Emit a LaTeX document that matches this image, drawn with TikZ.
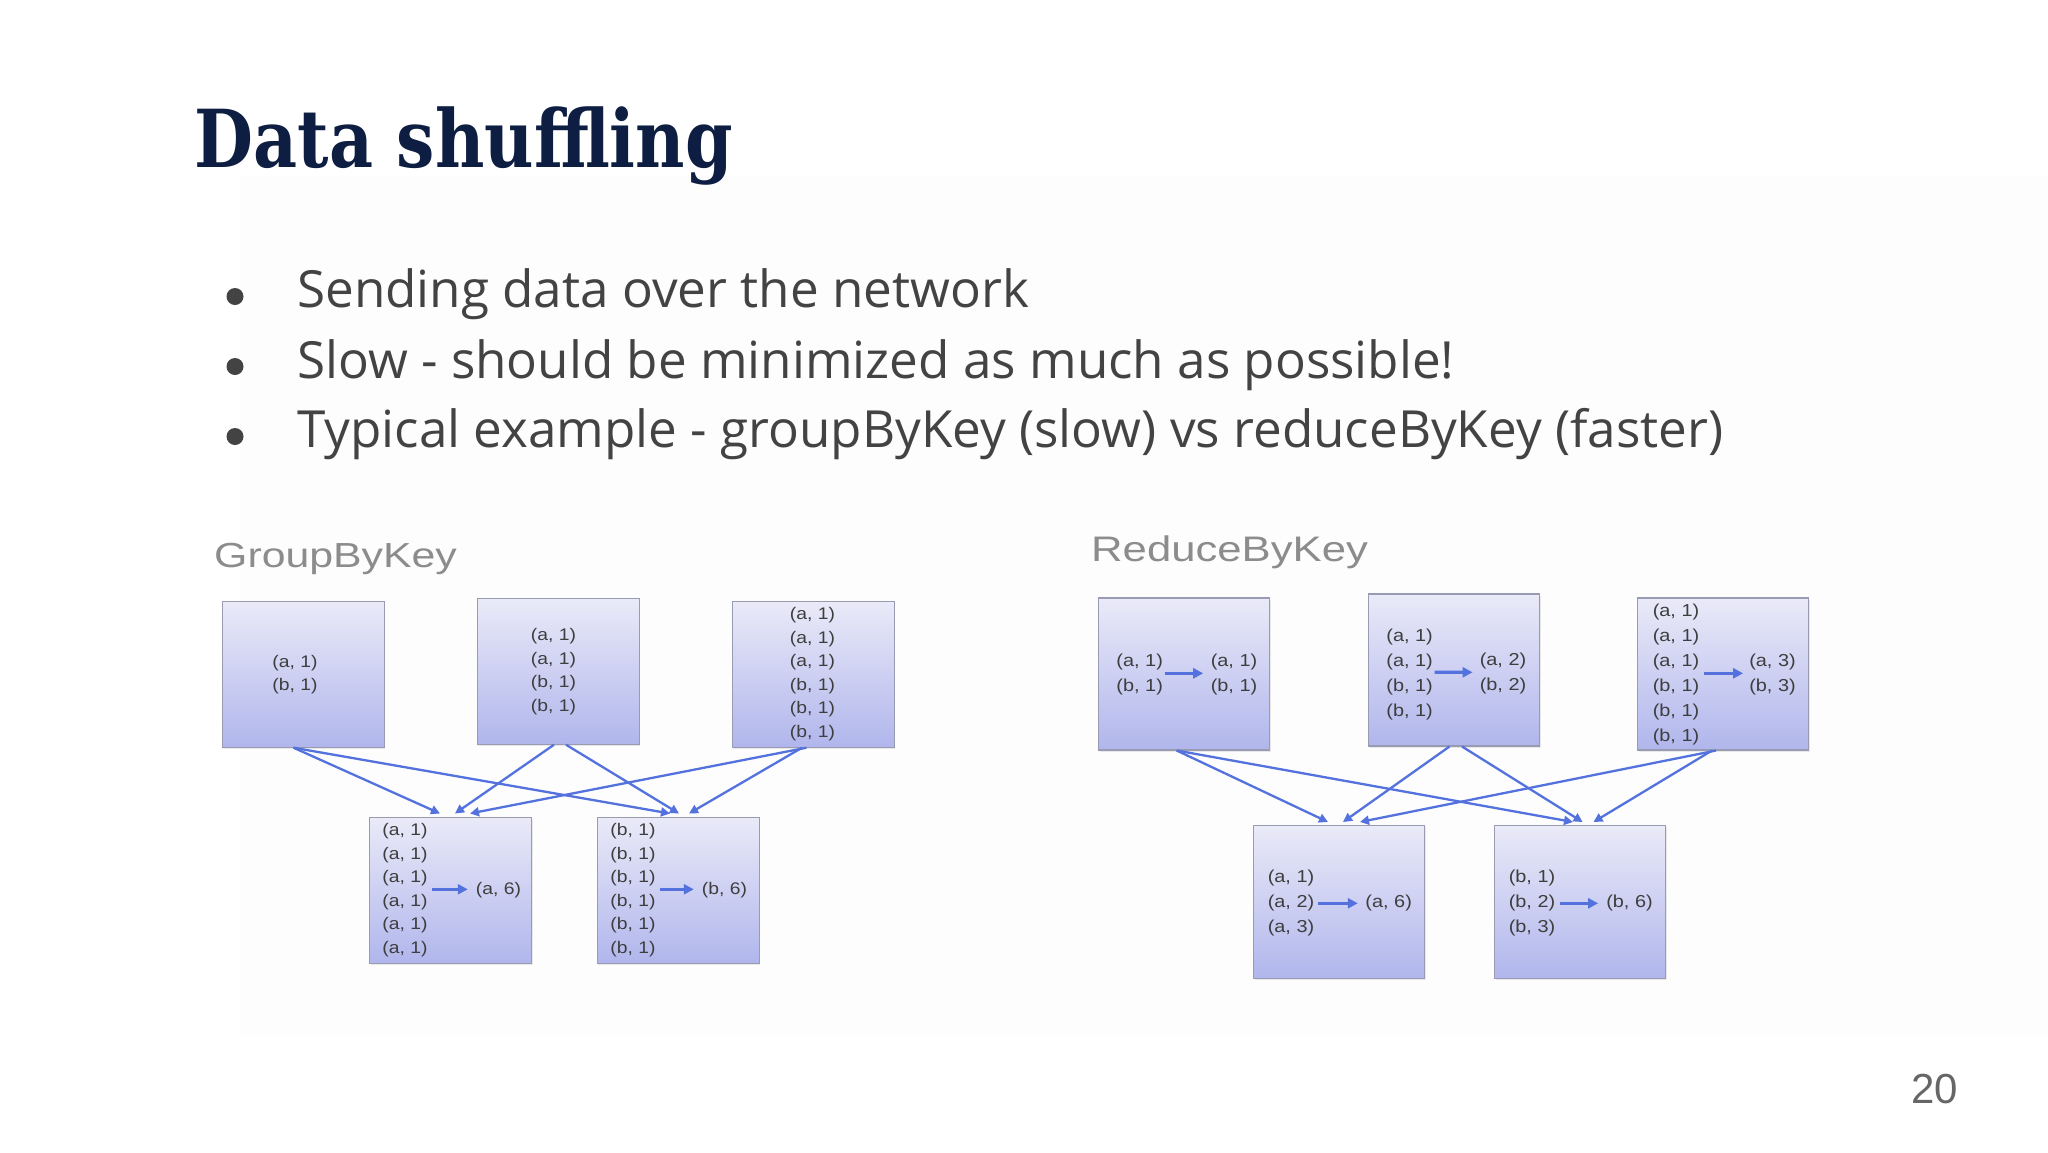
\documentclass[tikz,border=0pt]{standalone}
\usepackage{fontspec}
\usetikzlibrary{arrows.meta,shadows}
\newfontfamily\titlefont[FakeStretch=0.85]{DejaVu Serif}
\newfontfamily\bulletfont{Open Sans}
\newfontfamily\labelfont[FakeStretch=1.23]{Liberation Sans}
\newfontfamily\boxfont[FakeStretch=1.15]{Liberation Sans}
\newfontfamily\pagefont{Liberation Sans}
\definecolor{titlecol}{RGB}{13,30,66}
\definecolor{bulletcol}{RGB}{67,67,67}
\definecolor{labelcol}{RGB}{140,140,140}
\definecolor{pagecol}{RGB}{102,102,102}
\definecolor{boxtop}{RGB}{234,234,248}
\definecolor{boxbot}{RGB}{176,182,236}
\definecolor{boxline}{RGB}{152,155,178}
\definecolor{boxtext}{RGB}{62,62,62}
\definecolor{edgecol}{RGB}{84,114,222}
\definecolor{bgfaint}{RGB}{253,253,254}
\tikzset{
  gbox/.style={draw=boxline, line width=1.2pt, top color=boxtop, bottom color=boxbot,
    anchor=north west, inner sep=0pt, minimum width=162pt, minimum height=146pt,
    drop shadow={opacity=0.16, shadow xshift=1.2pt, shadow yshift=-1.8pt}},
  rbox/.style={gbox, minimum width=171pt, minimum height=152pt},
  gtxt/.style={inner sep=0pt, align=left, text=boxtext, font=\boxfont\fontsize{16.8}{23.5}\selectfont},
  rtxt/.style={inner sep=0pt, align=left, text=boxtext, font=\boxfont\fontsize{17.3}{25}\selectfont},
  flow/.style={draw=edgecol, line width=2.3pt, -{Triangle[length=9pt,width=9pt]}},
  inarrow/.style={draw=edgecol, line width=3.2pt, -{Triangle[length=10pt,width=10pt]}},
  bul/.style={anchor=base west, inner sep=0pt, text=bulletcol, font=\bulletfont\fontsize{51.2}{62}\selectfont},
  dot/.style={circle, fill=bulletcol, minimum size=17pt, inner sep=0pt},
  lbl/.style={anchor=base west, inner sep=0pt, text=labelcol, font=\labelfont\fontsize{34.8}{40}\selectfont},
}
\begin{document}
\begin{tikzpicture}[x=1pt,y=-1pt]
\useasboundingbox (0,0) rectangle (2048,1152);
\fill[white] (0,0) rectangle (2048,1152);
\fill[bgfaint] (240,176) rectangle (2048,1035);

% title
\node[anchor=base west, inner sep=0pt, text=titlecol, font=\titlefont\bfseries\fontsize{80}{96}\selectfont] (title) at (194.5,167.3) {Data shuffling};

% bullets
\node[dot] (d1) at (235,296.5) {};
\node[dot] (d2) at (235,366.5) {};
\node[dot] (d3) at (235,436.5) {};
\node[bul] (b1) at (297,307.5) {Sending data over the network};
\node[bul] (b2) at (297,378) {Slow - should be minimized as much as possible!};
\node[bul] (b3) at (297,447) {Typical example - groupByKey (slow) vs reduceByKey (faster)};

% labels
\node[lbl] (glbl) at (214,567.7) {GroupByKey};
\node[lbl, font=\labelfont\fontsize{35.5}{40}\selectfont] (rlbl) at (1091,561.7) {ReduceByKey};

% GroupByKey boxes
\node[gbox] (G1) at (221.5,600.5) {};
\node[gbox] (G2) at (476.5,597.5) {};
\node[gbox] (G3) at (731.5,600.5) {};
\node[gbox] (G4) at (369,816.5) {};
\node[gbox] (G5) at (596.5,816.5) {};

\node[gtxt] (g1t) at (295,674.5) {(a, 1)\\(b, 1)};
\node[gtxt] (g2t) at (553.5,671.8) {(a, 1)\\(a, 1)\\(b, 1)\\(b, 1)};
\node[gtxt] (g3t) at (812.5,674.2) {(a, 1)\\(a, 1)\\(a, 1)\\(b, 1)\\(b, 1)\\(b, 1)};
\node[gtxt] (g4t) at (405,890.3) {(a, 1)\\(a, 1)\\(a, 1)\\(a, 1)\\(a, 1)\\(a, 1)};
\node[gtxt] (g4r) at (498.5,890.3) {(a, 6)};
\node[gtxt] (g5t) at (633,890.3) {(b, 1)\\(b, 1)\\(b, 1)\\(b, 1)\\(b, 1)\\(b, 1)};
\node[gtxt] (g5r) at (724.5,890.3) {(b, 6)};

\draw[inarrow] ([xshift=4.5pt,yshift=1pt]g4t.east) -- ([xshift=-8pt,yshift=1pt]g4r.west);
\draw[inarrow] ([xshift=4pt,yshift=1pt]g5t.east) -- ([xshift=-8pt,yshift=1pt]g5r.west);

\draw[flow] ([xshift=72pt]G1.south west) -- ([xshift=71pt,yshift=3pt]G4.north west);
\draw[flow] ([xshift=72pt]G1.south west) -- ([xshift=73.5pt,yshift=3pt]G5.north west);
\draw[flow] ([xshift=77.5pt]G2.south west) -- ([xshift=86pt,yshift=3pt]G4.north west);
\draw[flow] ([xshift=89.5pt]G2.south west) -- ([xshift=82.5pt,yshift=3pt]G5.north west);
\draw[flow] ([xshift=75pt]G3.south west) -- ([xshift=101pt,yshift=3pt]G4.north west);
\draw[flow] ([xshift=70.5pt]G3.south west) -- ([xshift=92.5pt,yshift=3pt]G5.north west);

% ReduceByKey boxes
\node[rbox] (R1) at (1098,597.3) {};
\node[rbox] (R2) at (1368,593.3) {};
\node[rbox] (R3) at (1637,597.3) {};
\node[rbox, minimum height=153pt] (R4) at (1253,825) {};
\node[rbox, minimum height=153pt] (R5) at (1494,825) {};

\node[rtxt] (r1a) at (1139.7,674.7) {(a, 1)\\(b, 1)};
\node[rtxt] (r1b) at (1234,674.7) {(a, 1)\\(b, 1)};
\node[rtxt] (r2a) at (1409.6,674.2) {(a, 1)\\(a, 1)\\(b, 1)\\(b, 1)};
\node[rtxt] (r2b) at (1503,673.4) {(a, 2)\\(b, 2)};
\node[rtxt] (r3a) at (1676,674.2) {(a, 1)\\(a, 1)\\(a, 1)\\(b, 1)\\(b, 1)\\(b, 1)};
\node[rtxt] (r3b) at (1772.5,674.2) {(a, 3)\\(b, 3)};
\node[rtxt] (r4a) at (1291,903.3) {(a, 1)\\(a, 2)\\(a, 3)};
\node[rtxt] (r4b) at (1388.7,903.3) {(a, 6)};
\node[rtxt] (r5a) at (1532,903.3) {(b, 1)\\(b, 2)\\(b, 3)};
\node[rtxt] (r5b) at (1629.5,903.3) {(b, 6)};

\draw[inarrow] ([xshift=1.5pt,yshift=1.4pt]r1a.east) -- ([xshift=-7.4pt,yshift=1.4pt]r1b.west);
\draw[inarrow] ([xshift=1.5pt,yshift=1.9pt]r2a.east) -- ([xshift=-7pt,yshift=1.1pt]r2b.west);
\draw[inarrow] ([xshift=5pt,yshift=0.9pt]r3a.east) -- ([xshift=-6pt,yshift=0.9pt]r3b.west);
\draw[inarrow] ([xshift=3.5pt]r4a.east) -- ([xshift=-7.5pt]r4b.west);
\draw[inarrow] ([xshift=5pt]r5a.east) -- ([xshift=-8pt]r5b.west);

\draw[flow] ([xshift=78.7pt]R1.south west) -- ([xshift=75pt,yshift=3pt]R4.north west);
\draw[flow] ([xshift=78.7pt]R1.south west) -- ([xshift=79pt,yshift=3pt]R5.north west);
\draw[flow] ([xshift=81.5pt]R2.south west) -- ([xshift=90pt,yshift=3pt]R4.north west);
\draw[flow] ([xshift=94pt]R2.south west) -- ([xshift=88.6pt,yshift=3pt]R5.north west);
\draw[flow] ([xshift=79pt]R3.south west) -- ([xshift=107pt,yshift=3pt]R4.north west);
\draw[flow] ([xshift=75pt]R3.south west) -- ([xshift=99.5pt,yshift=3pt]R5.north west);

% page number
\node[anchor=base east, inner sep=0pt, text=pagecol, font=\pagefont\fontsize{42}{50}\selectfont] (pg) at (1958,1103) {20};
\end{tikzpicture}
\end{document}
